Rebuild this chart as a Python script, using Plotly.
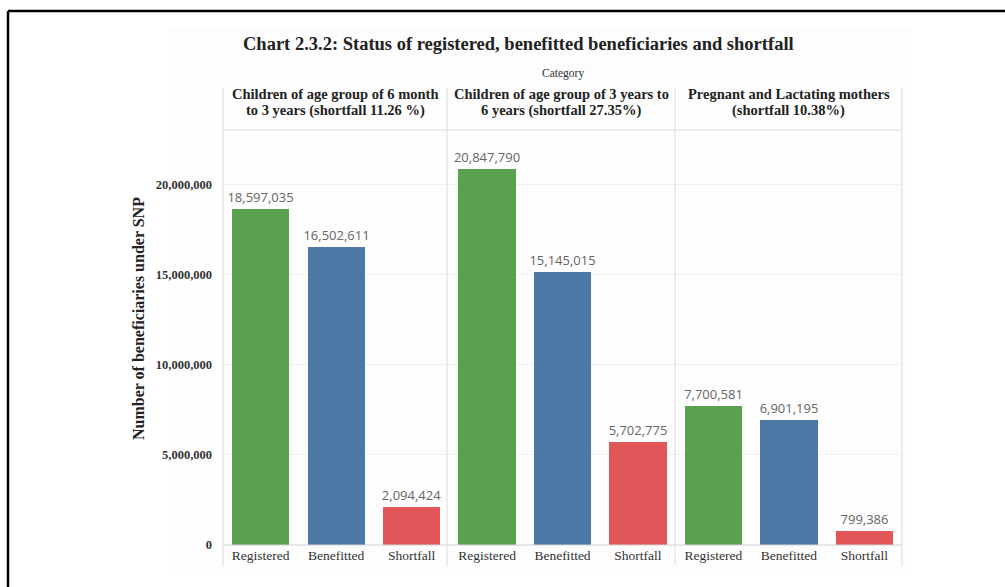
import plotly.graph_objects as go

# Data
groups_line1 = [
    "Children of age group of 6 month",
    "Children of age group of 3 years to",
    "Pregnant and Lactating mothers",
]
groups_line2 = [
    "to 3 years (shortfall 11.26 %)",
    "6 years (shortfall 27.35%)",
    "(shortfall 10.38%)",
]
measures = ["Registered", "Benefitted", "Shortfall"]
registered = [18597035, 20847790, 7700581]
benefitted = [16502611, 15145015, 6901195]
shortfall = [2094424, 5702775, 799386]
y_ticks = [0, 5000000, 10000000, 15000000, 20000000]

colors = {"Registered": "#59A14F", "Benefitted": "#4E79A7", "Shortfall": "#E15759"}
series = {"Registered": registered, "Benefitted": benefitted, "Shortfall": shortfall}

W, H = 1005, 587
L, R, T, B = 223, 902, 130, 545  # plot area in pixels


def px(x):
    return (x - L) / (R - L)


def py(y):
    return (B - y) / (B - T)


fig = go.Figure()
n = len(measures)
for j, m in enumerate(measures):
    xs = [g * n + j for g in range(len(groups_line1))]
    vals = series[m]
    fig.add_trace(go.Bar(
        x=xs, y=vals, width=0.76,
        marker=dict(color=colors[m], line=dict(width=0)),
        text=[f"{v:,}" for v in vals], textposition="outside",
        constraintext="none",
        textfont=dict(family="Open Sans", size=13, color="#666666"),
        cliponaxis=False, showlegend=False, name=m,
    ))

tickvals = list(range(len(groups_line1) * n))
ticktext = measures * len(groups_line1)

shapes = []
# very faint backdrop of the chart block
shapes.append(dict(type="rect", xref="paper", yref="paper",
                   x0=px(168), x1=px(912), y0=py(570), y1=py(27),
                   fillcolor="#fdfdfd", line=dict(width=0), layer="below"))
# panel dividers and frame
for xv in [L, 447, 675, R]:
    shapes.append(dict(type="line", xref="paper", yref="paper",
                       x0=px(xv), x1=px(xv), y0=py(566), y1=py(88),
                       line=dict(color="#dcdcdc", width=1)))
shapes.append(dict(type="line", xref="paper", yref="paper",
                   x0=px(L), x1=px(R), y0=py(T), y1=py(T),
                   line=dict(color="#dcdcdc", width=1)))
shapes.append(dict(type="line", xref="paper", yref="paper",
                   x0=px(L), x1=px(R), y0=py(B), y1=py(B),
                   line=dict(color="#d0d0d0", width=1)))
# outer black border (top and left)
shapes.append(dict(type="line", xref="paper", yref="paper",
                   x0=px(8), x1=px(1010), y0=py(11), y1=py(11),
                   line=dict(color="#000000", width=2.5)))
shapes.append(dict(type="line", xref="paper", yref="paper",
                   x0=px(8), x1=px(8), y0=py(11), y1=py(595),
                   line=dict(color="#000000", width=2.5)))

annotations = []
annotations.append(dict(
    text="<b>Chart 2.3.2: Status of registered, benefitted beneficiaries and shortfall</b>",
    xref="paper", yref="paper", x=px(518), y=py(44), showarrow=False,
    font=dict(family="Liberation Serif", size=18.5, color="#222222"),
    xanchor="center", yanchor="middle"))
annotations.append(dict(
    text="Category", xref="paper", yref="paper", x=px(563), y=py(73),
    showarrow=False, font=dict(family="Liberation Serif", size=11.5, color="#333333"),
    xanchor="center", yanchor="middle"))
centers = [(L + 447) / 2, (447 + 675) / 2, (675 + R) / 2]
for c, l1, l2 in zip(centers, groups_line1, groups_line2):
    for txt, yy in [(l1, 94), (l2, 111)]:
        annotations.append(dict(
            text=f"<b>{txt}</b>", xref="paper", yref="paper", x=px(c), y=py(yy),
            showarrow=False, font=dict(family="Liberation Serif", size=14.5, color="#222222"),
            xanchor="center", yanchor="middle", align="center"))
annotations.append(dict(
    text="<b>Number of beneficiaries under SNP</b>", xref="paper", yref="paper",
    x=px(138), y=py(319), showarrow=False, textangle=-90,
    font=dict(family="Liberation Serif", size=16, color="#222222"),
    xanchor="center", yanchor="middle"))

fig.update_layout(
    width=W, height=H,
    margin=dict(l=L, r=W - R, t=T, b=H - B, autoexpand=False),
    paper_bgcolor="#ffffff", plot_bgcolor="rgba(0,0,0,0)",
    bargap=0, shapes=shapes, annotations=annotations,
    xaxis=dict(range=[-0.5, len(tickvals) - 0.5], tickvals=tickvals, ticktext=ticktext,
               showgrid=False, zeroline=False, showline=False, ticks="",
               tickfont=dict(family="Liberation Serif", size=13.5, color="#333333"),
               fixedrange=True),
    yaxis=dict(range=[0, 23000000], tickvals=y_ticks,
               ticktext=[f"<b>{v:,}</b>" for v in y_ticks],
               showgrid=True, gridcolor="#f0f0f0", gridwidth=1,
               zeroline=False, showline=False, ticks="", ticklabelstandoff=10,
               tickfont=dict(family="Liberation Serif", size=12.5, color="#333333"),
               fixedrange=True),
)

fig.write_html("out.html")
